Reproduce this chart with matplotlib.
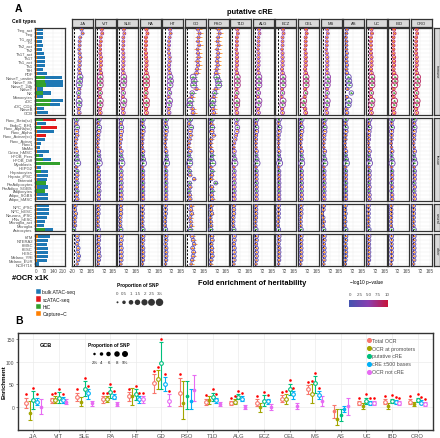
"""Heritability enrichment of putative cREs across cell types (panel A) and
enrichment by OCR category in GCB (panel B)."""

import matplotlib

matplotlib.use("Agg")

import matplotlib.pyplot as plt
import numpy as np
from matplotlib.colors import LinearSegmentedColormap, Normalize

W, H = 440, 439
plt.rcParams["font.family"] = ["Liberation Sans", "DejaVu Sans"]

# ---------------------------------------------------------------- data (A)
DISEASES = ["JIA", "VIT", "SLE", "RA", "HT", "GD", "PSO", "T1D",
            "ALG", "ECZ", "CEL", "MS", "AS", "UC", "IBD", "CRO"]

GROUPS = ["immune", "tissue", "neural", "other"]

IMMUNE_CELLS = ["Treg_act", "Treg", "Tr1_act", "Tr1", "Th2_act", "Th2", "Th17_act",
                "Th17", "Th1_act", "Th1", "TfH", "PDF", "NaiveT_unstim", "NaiveT_8h",
                "NaiveT_24h", "NaiveT", "NK", "Monocytes", "cDC", "cDC_CD2", "NaiveB", "GCB"]
TISSUE_CELLS = ["Panc_Beta(sc)", "EndoC_BH1", "Panc_Alpha(sc)", "Panc_Alpha",
                "Panc_Acinar(sc)", "Panc_Acinar", "Panc1", "MaMo", "Osteo_hMSC",
                "HFOB_Pers", "HFOB_Diff", "Myoblasts", "HEPG2", "Hepatocytes",
                "Hepato_iPSC", "Enteroid", "PreAdipocytes", "PreAdipo_SGBS",
                "Adipocytes", "Adipo_SGBS", "Adipo_hMSC"]
NEURAL_CELLS = ["NPC_iPSC", "NPC_hESC", "Neurons_iPSC", "HNs_hESC",
                "Microglia_act", "Microglia", "Astrocytes"]
OTHER_CELLS = ["hTM", "NTERA2", "hMSC", "hESC", "HESC", "Melano_YRI",
               "Melano_EUR", "NCIH716"]

# #OCR x1K: open chromatin (bulk / sc ATAC) and 3D contact assay (HiC / Capture-C)
OCR_COUNT = [60, 55, 55, 52, 55, 48, 65, 73, 73, 75, 60, 90, 210, 215, 220, 60, 125, 60, 215, 195, 68, 100,
             164, 80, 170, 143, 80, 73, 42, 35, 107, 60, 125, 0, 42, 94, 94, 86, 0, 94, 0, 94, 94,
             107, 107, 107, 86, 73, 68, 138,
             112, 99, 86, 99, 99, 99, 86, 29]
OCR_ASSAY = (["bulk"] * 22
             + ["sc", "bulk", "sc", "bulk", "sc"] + ["bulk"] * 16
             + ["bulk"] * 7 + ["bulk"] * 8)
LOOP_COUNT = [10, 8, 8, 8, 8, 8, 10, 10, 12, 12, 10, 12, 73, 73, 85, 10, 60, 8, 125, 110, 10, 10,
              60, 10, 45, 10, 10, 10, 8, 8, 10, 30, 60, 190, 8, 40, 10, 10, 80, 12, 73, 12, 12,
              12, 10, 10, 10, 8, 8, 73,
              15, 10, 10, 10, 10, 10, 10, 6]
LOOP_ASSAY = ["C"] * 12 + ["H", "H", "H", "C", "H", "C", "H", "H", "C", "C"] \
    + ["H", "C", "H", "C", "C", "C", "C", "C", "C", "H", "H", "H", "C", "H", "C", "C", "H", "C", "H", "C", "C"] \
    + ["C"] * 6 + ["H"] + ["C"] * 8

# proportion of SNP (%) covered by each annotation
SNP_PROP = [0.6, 0.5, 0.5, 0.5, 0.5, 0.4, 0.6, 0.7, 0.7, 0.7, 0.6, 0.9, 2.6, 2.7, 2.8, 0.6, 1.4, 0.6, 2.8, 2.5, 0.7, 1.0,
            1.6, 0.8, 1.7, 1.4, 0.8, 0.7, 0.4, 0.3, 1.0, 0.6, 1.2, 3.0, 0.4, 0.9, 0.9, 0.8, 1.0, 0.9, 0.9, 0.9, 0.9,
            1.0, 1.0, 1.0, 0.8, 0.7, 0.6, 1.3,
            1.1, 1.0, 0.8, 1.0, 1.0, 1.0, 0.8, 0.3]

# fold enrichment of heritability, one list per trait (immune, tissue, neural, other)
JIA_FE = [75, 85, 60, 55, 55, 50, 55, 60, 55, 55, 50, 55, 60, 55, 50, 50, 45, 45, 50, 50, 45, 50,
          25, 20, 30, 25, 30, 20, 15, 20, 25, 30, 30, 35, 20, 30, 30, 25, 30, 25, 30, 25, 30,
          10, 5, 15, 10, 5, 10, -5,
          30, 35, 30, 40, 35, 45, 40, 30]
VIT_FE = [50, 55, 40, 40, 35, 35, 35, 40, 40, 40, 35, 40, 35, 35, 35, 30, 35, 30, 35, 35, 30, 35,
          20, 15, 25, 20, 15, 15, 10, 10, 20, 25, 25, 25, 15, 20, 20, 20, 25, 20, 25, 20, 20,
          15, 15, 15, 10, 10, 10, 15,
          20, 20, 15, 20, 20, 25, 20, 15]
SLE_FE = [45, 50, 40, 40, 40, 35, 40, 40, 40, 40, 35, 40, 45, 45, 40, 35, 40, 35, 45, 40, 35, 40,
          20, 15, 20, 20, 15, 15, 10, 10, 20, 20, 25, 25, 15, 20, 20, 20, 20, 20, 20, 20, 20,
          15, 15, 15, 10, 10, 10, 15,
          20, 20, 15, 20, 20, 20, 20, 15]
RA_FE = [45, 55, 40, 40, 40, 35, 40, 40, 45, 45, 40, 45, 45, 45, 45, 40, 40, 35, 45, 45, 40, 45,
         10, 5, 10, 10, 5, 5, 5, 5, 10, 10, 15, 15, 5, 10, 10, 10, 10, 10, 10, 10, 10,
         5, 5, 5, 5, 5, 5, 10,
         10, 10, 5, 10, 10, 10, 10, 5]
HT_FE = [55, 60, 50, 45, 45, 40, 45, 50, 50, 45, 45, 50, 55, 60, 55, 45, 50, 40, 50, 45, 40, 45,
         15, 10, 15, 15, 10, 10, 5, 10, 15, 20, 20, 20, 10, 15, 15, 15, 15, 15, 15, 15, 15,
         10, 10, 10, 5, 5, 5, 10,
         15, 15, 10, 15, 15, 15, 15, 10]
GD_FE = [110, 125, 115, 110, 120, 105, 110, 115, 105, 110, 100, 95, 60, 70, 65, 95, 50, 45, 30, 25, 55, 60,
         30, 20, 40, 30, 35, 25, 20, 15, 30, 20, 30, 25, 15, 25, 30, 70, 25, 30, 20, 25, 30,
         40, 35, 45, 30, 35, 40, 30,
         50, 60, 70, 55, 65, 60, 50, 40]
PSO_FE = [90, 100, 85, 80, 90, 75, 85, 80, 75, 80, 70, 65, 70, 85, 90, 60, 50, 40, 30, 25, 35, 40,
          20, 15, 25, 20, 40, 15, 10, 10, 20, 25, 20, 30, 10, 25, 20, 15, 60, 20, 25, 20, 25,
          15, 10, 20, 5, 10, 15, 10,
          20, 25, 15, 20, 20, 25, 15, 10]
T1D_FE = [50, 55, 45, 45, 45, 40, 45, 45, 45, 45, 40, 45, 50, 50, 50, 40, 45, 35, 45, 45, 40, 45,
          45, 40, 50, 45, 35, 30, 20, 15, 20, 20, 25, 25, 15, 20, 20, 20, 20, 20, 20, 20, 20,
          15, 15, 15, 10, 10, 10, 15,
          20, 20, 15, 20, 20, 20, 20, 15]
ALG_FE = [40, 45, 35, 35, 35, 30, 35, 35, 35, 35, 30, 35, 40, 40, 40, 30, 35, 30, 40, 35, 30, 35,
          15, 10, 15, 15, 10, 10, 10, 10, 15, 15, 20, 20, 10, 15, 15, 15, 15, 15, 15, 15, 15,
          10, 10, 10, 10, 5, 5, 10,
          15, 15, 10, 15, 15, 15, 15, 10]
ECZ_FE = [55, 60, 50, 50, 50, 45, 50, 50, 50, 50, 45, 50, 55, 55, 55, 45, 50, 40, 55, 50, 45, 50,
          15, 10, 20, 15, 10, 10, 10, 10, 15, 15, 20, 20, 10, 15, 15, 15, 15, 15, 15, 15, 15,
          10, 10, 10, 10, 5, 5, 10,
          15, 15, 10, 15, 15, 15, 15, 10]
CEL_FE = [60, 65, 55, 55, 55, 50, 55, 55, 55, 55, 50, 55, 60, 60, 60, 50, 55, 45, 35, 30, 50, 55,
          15, 10, 15, 15, 10, 10, 5, 10, 15, 15, 20, 15, 10, 15, 15, 15, 15, 15, 15, 15, 15,
          10, 10, 10, 5, 5, 5, 10,
          10, 10, 10, 10, 10, 10, 10, 5]
MS_FE = [45, 50, 40, 40, 40, 35, 40, 45, 45, 45, 40, 45, 50, 50, 45, 40, 45, 35, 45, 40, 35, 40,
         20, 15, 20, 20, 15, 15, 10, 10, 20, 15, 20, 20, 10, 15, 15, 15, 15, 15, 15, 15, 15,
         10, 5, -10, 5, 10, 5, 10,
         15, 15, 10, 15, 15, 15, 15, 10]
AS_FE = [15, 10, 5, 10, 10, 10, 15, 10, 10, 15, 10, 15, 30, 35, 40, 20, 60, 15, 35, 30, 10, 15,
         5, 0, 5, 5, 0, 0, -5, 0, 5, 5, 10, 10, 0, 5, 5, 5, 5, 5, 5, 5, 5,
         0, -5, 0, -5, 0, -5, 5,
         5, 5, 0, 5, 5, 5, 0, 0]
UC_FE = [35, 40, 30, 30, 30, 30, 30, 35, 35, 35, 30, 35, 40, 40, 40, 30, 35, 30, 40, 35, 30, 35,
         15, 10, 15, 10, 10, 10, 5, 10, 15, 10, 15, 15, 10, 15, 15, 15, 10, 15, 10, 15, 15,
         5, 5, 5, 5, 5, 5, 10,
         10, 10, 10, 10, 10, 10, 10, 5]
IBD_FE = [35, 40, 30, 30, 30, 30, 30, 35, 35, 35, 30, 35, 45, 45, 40, 30, 35, 30, 40, 35, 30, 35,
          15, 10, 15, 10, 10, 10, 5, 10, 15, 10, 15, 15, 10, 15, 15, 15, 10, 15, 10, 15, 15,
          5, 5, 5, 5, 5, 5, 10,
          10, 10, 10, 10, 10, 10, 10, 5]
CRO_FE = [35, 40, 30, 30, 30, 30, 30, 35, 35, 35, 30, 35, 45, 45, 40, 30, 35, 30, 40, 35, 30, 35,
          15, 10, 15, 10, 10, 10, 5, 10, 15, 10, 15, 15, 10, 15, 15, 15, 10, 15, 10, 15, 15,
          5, 5, 5, 5, 5, 5, 10,
          10, 10, 10, 10, 10, 10, 10, 5]

# -log10 p-value per trait and cell-type group
LOGP_IMMUNE = [3.5, 7, 6, 9, 4.5, 4, 3.5, 7, 5.5, 6, 7.5, 5.5, 2.5, 7.5, 8.5, 8.5]
LOGP_TISSUE = [2.5, 3, 3, 3, 2.5, 2.5, 2.5, 4, 3, 3, 3, 3, 2, 3, 3, 3]
LOGP_NEURAL = [1.5, 2, 2, 2, 1.5, 2, 1.5, 2, 2, 2, 2, 2, 1, 2, 2, 2]
LOGP_OTHER = [1.5, 2, 2, 2, 1.5, 2, 1.5, 2, 2, 2, 2, 2, 1, 2, 2, 2]

# standard error of fold enrichment per trait and cell-type group
SE_IMMUNE = [15, 8, 8, 8, 10, 35, 35, 8, 8, 8, 10, 12, 15, 6, 6, 6]
SE_TISSUE = [15, 8, 8, 6, 10, 20, 25, 8, 8, 8, 8, 10, 12, 6, 6, 6]
SE_NEURAL = [10, 8, 8, 6, 8, 25, 20, 8, 6, 6, 6, 10, 10, 6, 6, 6]
SE_OTHER = [10, 8, 8, 6, 8, 25, 20, 8, 6, 6, 6, 10, 10, 6, 6, 6]

# ---------------------------------------------------------------- data (B)
B_SERIES = ["Total OCR", "OCR at promoters", "putative cRE", "cRE \u00b1500 bases", "OCR not cRE"]
TOTAL_VAL = [10, 15, 23, 19, 25, 53, 32, 12, 9, 10, 19, 40, -8, 9, 12, 12]
TOTAL_LO = [-1, 9, 14, 10, 14, 32, 3, 4, 4, 2, 12, 29, -23, 4, 6, 6]
TOTAL_HI = [21, 21, 32, 25, 34, 73, 65, 19, 14, 17, 26, 48, 4, 14, 18, 18]
TOTAL_SIG = [1, 1, 1, 1, 1, 1, 1, 1, 1, 1, 1, 1, 0, 1, 1, 1]
PROM_VAL = [-13, 16, 12, 18, 24, 63, 9, 16, 12, 0, 18, 29, -25, 3, 3, 7]
PROM_LO = [-28, 9, 3, 12, 4, 41, -26, 7, 7, -10, 7, 10, -40, -3, -3, 2]
PROM_HI = [14, 25, 23, 24, 43, 82, 58, 25, 17, 10, 29, 51, -4, 9, 9, 12]
PROM_SIG = [0, 1, 0, 1, 0, 1, 0, 0, 1, 0, 1, 1, 0, 0, 0, 0]
CRE_VAL = [15, 21, 40, 34, 29, 98, 25, 23, 23, 14, 40, 54, -18, 14, 14, 16]
CRE_LO = [-4, 10, 25, 21, 16, 40, -4, 14, 18, 3, 26, 32, -30, 7, 9, 11]
CRE_HI = [35, 34, 58, 45, 40, 143, 58, 32, 29, 26, 52, 69, -4, 21, 19, 21]
CRE_SIG = [1, 1, 1, 1, 1, 1, 0, 1, 1, 1, 1, 1, 0, 1, 1, 1]
CRE500_VAL = [12, 16, 31, 23, 19, 51, 14, 16, 19, 14, 29, 26, -4, 9, 12, 10]
CRE500_LO = [4, 10, 18, 17, 10, 36, -4, 10, 14, 7, 19, 18, -10, 4, 7, 6]
CRE500_HI = [21, 23, 40, 29, 25, 67, 40, 21, 25, 19, 36, 35, 3, 13, 16, 15]
CRE500_SIG = [1, 1, 1, 1, 1, 1, 0, 1, 1, 1, 1, 1, 0, 1, 1, 1]
NOTCRE_VAL = [0, 12, 9, 7, 18, 14, 38, 7, 1, 0, 3, 14, 3, 9, 9, 7]
NOTCRE_LO = [-15, 6, 3, 3, 10, 3, 14, 3, -3, -7, -4, 3, -18, 4, 4, 2]
NOTCRE_HI = [18, 18, 14, 12, 25, 29, 70, 11, 5, 8, 9, 25, 21, 14, 14, 12]
NOTCRE_SIG = [0, 0, 0, 0, 1, 1, 0, 0, 0, 0, 0, 0, 0, 1, 1, 1]

SNP_LEGEND_A = [0, 0.5, 1, 1.5, 2, 2.5, 3]
SNP_LEGEND_B = [2, 4, 6, 8, 9]

# ---------------------------------------------------------------- styles
OCR_COLORS = {"bulk": "#1F78B4", "sc": "#E31A1C"}
LOOP_COLORS = {"H": "#33A02C", "C": "#FF7F00"}
B_COLORS = ["#F8766D", "#A3A500", "#00BF7D", "#00B0F6", "#E76BF3"]
B_OFFSETS = [-0.28, -0.14, 0.0, 0.14, 0.28]
PCMAP = LinearSegmentedColormap.from_list("logp", ["#4454B0", "#8A3FB0", "#C8143A"])
PNORM = Normalize(0, 10)
BORDER = "#333333"
GRID = "#EBEBEB"
TXT = "#4D4D4D"


def px_axes(fig, left, top, width, height, **kwargs):
    return fig.add_axes([left / W, 1 - (top + height) / H, width / W, height / H], **kwargs)


def style_box(ax, lw=0.9):
    for spine in ax.spines.values():
        spine.set_color(BORDER)
        spine.set_linewidth(lw)


def ring_size(snp):
    return 1.5 + 6 * np.asarray(snp, dtype=float)


def main():
    fig = plt.figure(figsize=(W / 100, H / 100), dpi=100, facecolor="white")

    cells = IMMUNE_CELLS + TISSUE_CELLS + NEURAL_CELLS + OTHER_CELLS
    counts = [len(IMMUNE_CELLS), len(TISSUE_CELLS), len(NEURAL_CELLS), len(OTHER_CELLS)]
    starts = np.cumsum([0] + counts[:-1])
    fe_by_trait = [JIA_FE, VIT_FE, SLE_FE, RA_FE, HT_FE, GD_FE, PSO_FE, T1D_FE,
                   ALG_FE, ECZ_FE, CEL_FE, MS_FE, AS_FE, UC_FE, IBD_FE, CRO_FE]
    logp_by_group = [LOGP_IMMUNE, LOGP_TISSUE, LOGP_NEURAL, LOGP_OTHER]
    se_by_group = [SE_IMMUNE, SE_TISSUE, SE_NEURAL, SE_OTHER]

    top, bottom, gap = 28.5, 267.0, 2.8
    row_h = (bottom - top - gap * 3) / len(cells)
    group_tops, group_hs = [], []
    y_cursor = top
    for n in counts:
        group_tops.append(y_cursor)
        group_hs.append(n * row_h)
        y_cursor += n * row_h + gap

    # ---- bar panel (#OCR x1K)
    for g, n in enumerate(counts):
        sl = slice(starts[g], starts[g] + n)
        ax = px_axes(fig, 35, group_tops[g], 30, group_hs[g])
        y = np.arange(n)
        ax.barh(y, OCR_COUNT[sl], height=0.78,
                color=[OCR_COLORS[a] for a in OCR_ASSAY[sl]], linewidth=0)
        ax.barh(y, LOOP_COUNT[sl], height=0.78,
                color=[LOOP_COLORS[a] for a in LOOP_ASSAY[sl]], linewidth=0)
        ax.set_xlim(-5, 232)
        ax.set_ylim(n - 0.5, -0.5)
        ax.set_yticks(y)
        ax.set_yticklabels(cells[sl], fontsize=3.0, color=TXT)
        ax.set_xticks([0, 70, 140, 210])
        ax.grid(color=GRID, linewidth=0.3)
        ax.set_axisbelow(True)
        ax.tick_params(length=1, width=0.3, pad=0.6, colors=BORDER, labelcolor=TXT)
        if g == len(counts) - 1:
            ax.tick_params(axis="x", labelsize=3.4)
        else:
            ax.tick_params(axis="x", labelbottom=False, length=0)
        style_box(ax)

    # ---- forest panels
    for i, disease in enumerate(DISEASES):
        left = 72 + 22.6 * i
        strip = px_axes(fig, left, 19.5, 21, 8)
        strip.set_facecolor("#D9D9D9")
        strip.set_xticks([])
        strip.set_yticks([])
        style_box(strip)
        strip.text(0.5, 0.45, disease, ha="center", va="center", fontsize=3.0,
                   color="#1A1A1A", transform=strip.transAxes)
        for g, n in enumerate(counts):
            sl = slice(starts[g], starts[g] + n)
            ax = px_axes(fig, left, group_tops[g], 21, group_hs[g])
            y = np.arange(n)
            vals = np.asarray(fe_by_trait[i][sl], dtype=float)
            se = se_by_group[g][i]
            loop_cols = [LOOP_COLORS[a] for a in LOOP_ASSAY[sl]]
            ax.axvline(0, color="black", linewidth=0.7, linestyle=(0, (2.2, 1.6)), zorder=1)
            ax.hlines(y, vals - se, vals + se, colors=loop_cols, linewidth=0.5, zorder=2)
            ax.scatter(vals, y, s=ring_size(SNP_PROP[sl]), facecolors="none",
                       edgecolors=[PCMAP(PNORM(logp_by_group[g][i]))], linewidths=0.6, zorder=3)
            ax.scatter(vals, y, s=1.3, c=loop_cols, linewidths=0, zorder=4)
            ax.set_xlim(-22, 190)
            ax.set_ylim(n - 0.5, -0.5)
            ax.set_yticks(y)
            ax.set_xticks([-20, 72, 165])
            ax.set_xticklabels(["-20" if i == 0 else "", "72", "165"])
            ax.grid(color=GRID, linewidth=0.3)
            ax.set_axisbelow(True)
            ax.tick_params(axis="y", left=False, labelleft=False)
            ax.tick_params(axis="x", length=1, width=0.3, pad=0.6, colors=BORDER,
                           labelcolor=TXT, labelsize=3.4)
            if g != len(counts) - 1:
                ax.tick_params(axis="x", labelbottom=False, length=0)
            style_box(ax)

    for g, name in enumerate(GROUPS):
        strip = px_axes(fig, 433.5, group_tops[g], 6, group_hs[g])
        strip.set_facecolor("#D9D9D9")
        strip.set_xticks([])
        strip.set_yticks([])
        style_box(strip)
        strip.text(0.5, 0.5, name, ha="center", va="center", rotation=-90,
                   fontsize=2.8, color="#1A1A1A", transform=strip.transAxes)

    # ---- panel B
    axb = px_axes(fig, 18, 334, 415, 97)
    x = np.arange(len(DISEASES))
    series = [
        (TOTAL_VAL, TOTAL_LO, TOTAL_HI, TOTAL_SIG),
        (PROM_VAL, PROM_LO, PROM_HI, PROM_SIG),
        (CRE_VAL, CRE_LO, CRE_HI, CRE_SIG),
        (CRE500_VAL, CRE500_LO, CRE500_HI, CRE500_SIG),
        (NOTCRE_VAL, NOTCRE_LO, NOTCRE_HI, NOTCRE_SIG),
    ]
    for (val, lo, hi, sig), color, off, label in zip(series, B_COLORS, B_OFFSETS, B_SERIES):
        val, lo, hi, sig = (np.asarray(a, dtype=float) for a in (val, lo, hi, sig))
        xs = x + off
        axb.errorbar(xs, val, yerr=[val - lo, hi - val], fmt="none", ecolor=color,
                     elinewidth=0.8, capsize=1.6, capthick=0.8, zorder=2)
        is_sig = sig > 0
        axb.scatter(xs[is_sig], val[is_sig], s=7, facecolors="white", edgecolors=color,
                    linewidths=0.8, zorder=3)
        axb.scatter(xs[~is_sig], val[~is_sig], s=7, color=color, linewidths=0, zorder=3)
        axb.scatter(xs[is_sig], hi[is_sig] + 7, s=3.5, color="#FF0000", linewidths=0, zorder=4)
        axb.scatter([], [], s=7, color=color, label=label)
    axb.set_xlim(-0.6, len(DISEASES) - 0.4)
    axb.set_ylim(-50, 163)
    axb.set_xticks(x)
    axb.set_xticklabels(DISEASES)
    axb.set_yticks([0, 50, 100, 150])
    axb.grid(color=GRID, linewidth=0.5)
    axb.set_axisbelow(True)
    axb.tick_params(length=1.5, width=0.4, pad=1, colors=BORDER, labelcolor=TXT)
    axb.tick_params(axis="x", labelsize=4.2)
    axb.tick_params(axis="y", labelsize=3.6)
    axb.set_ylabel("Enrichment", fontsize=4.4, fontweight="bold")
    axb.yaxis.set_label_coords(-0.028, 0.5)
    style_box(axb, lw=1.0)
    leg = axb.legend(loc="upper left", bbox_to_anchor=(0.83, 0.99), frameon=False,
                     fontsize=3.8, handletextpad=0.1, labelspacing=0.55, borderpad=0.2,
                     handlelength=1.0, markerscale=1.0)
    for t in leg.get_texts():
        t.set_color(TXT)

    # ---- overlay: titles and legends, in pixel coordinates
    ov = fig.add_axes([0, 0, 1, 1], zorder=10)
    ov.set_xlim(0, W)
    ov.set_ylim(H, 0)
    ov.axis("off")
    ov.patch.set_alpha(0)

    ov.text(18, 8.5, "A", fontsize=7.5, fontweight="bold", ha="center", va="center")
    ov.text(19, 321, "B", fontsize=7.5, fontweight="bold", ha="center", va="center")
    ov.text(250, 13, "putative cRE", fontsize=5.4, fontweight="bold", ha="center", va="center")
    ov.text(12, 21.7, "Cell types", fontsize=3.6, fontweight="bold", ha="left", va="center")
    ov.text(12, 279, "#OCR x1K", fontsize=5.4, fontweight="bold", ha="left", va="center")
    ov.text(252, 283.5, "Fold enrichment of heritability", fontsize=5.4,
            fontweight="bold", ha="center", va="center")

    legend_items = [("bulk ATAC-seq", OCR_COLORS["bulk"]), ("scATAC-seq", OCR_COLORS["sc"]),
                    ("HiC", LOOP_COLORS["H"]), ("Capture\u2212C", LOOP_COLORS["C"])]
    for k, (label, color) in enumerate(legend_items):
        yc = 292.7 + 7.35 * k
        ov.add_patch(plt.Rectangle((36, yc - 2.6), 4.6, 5.2, facecolor=color,
                                   edgecolor="white", linewidth=0.3))
        ov.text(42.5, yc, label, fontsize=3.6, color="#1A1A1A", ha="left", va="center")

    ov.text(117, 285.3, "Proportion of SNP", fontsize=3.4, fontweight="bold",
            ha="left", va="center")
    snp_x = [117.5, 124, 131, 137.5, 144.5, 151.5, 159.5]
    for xv, v in zip(snp_x, SNP_LEGEND_A):
        lab = "3%" if v == 3 else f"{v:g}"
        ov.text(xv, 294.3, lab, fontsize=3.2, color=TXT, ha="center", va="center")
    ov.scatter(snp_x, [303.3] * len(snp_x), s=2 + 9 * np.asarray(SNP_LEGEND_A),
               color="#333333", linewidths=0)

    ov.text(349.5, 282.7, "\u2212log10 p\u2212value", fontsize=3.4, ha="left", va="center")
    for v in [0, 2.5, 5.0, 7.5, 10]:
        xv = 350.5 + (387.5 - 350.5) * v / 10
        lab = "0" if v == 0 else ("10" if v == 10 else f"{v:.1f}")
        ov.text(xv, 295, lab, fontsize=3.2, color=TXT, ha="center", va="center")
    cax = px_axes(fig, 349.3, 300.7, 39, 7.6)
    cax.imshow(np.linspace(0, 10, 256).reshape(1, -1), cmap=PCMAP, norm=PNORM,
               aspect="auto", extent=[0, 10, 0, 1])
    cax.axis("off")

    ov.text(40, 345.5, "GCB", fontsize=4.0, fontweight="bold", ha="left", va="center")
    ov.text(88, 345.5, "Proportion of SNP", fontsize=3.4, fontweight="bold",
            ha="left", va="center")
    b_snp_x = [94.5, 101.5, 108.5, 117, 125]
    sizes = [(0.72 * (1.5 + 0.5 * v)) ** 2 for v in SNP_LEGEND_B]
    ov.scatter(b_snp_x, [355] * len(b_snp_x), s=sizes, color="black", linewidths=0)
    for xv, v in zip(b_snp_x, SNP_LEGEND_B):
        lab = f"{v}%" if v in (2, 9) else str(v)
        ov.text(xv, 363, lab, fontsize=3.2, color="#1A1A1A", ha="center", va="center")

    fig.savefig("out.png", dpi=100, facecolor="white")
    plt.close(fig)


if __name__ == "__main__":
    main()
